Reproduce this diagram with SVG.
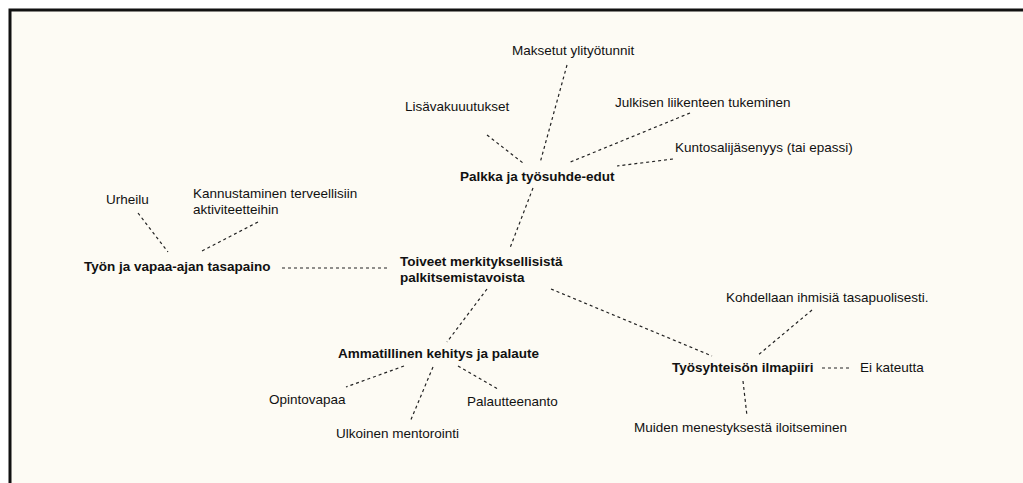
<svg xmlns="http://www.w3.org/2000/svg" width="1023" height="483" viewBox="0 0 1023 483">
<style>
text{font-family:"Liberation Sans",Arial,sans-serif;font-size:13.5px;fill:#111}
.b{font-weight:bold}
.c line{stroke:#222;stroke-width:1.2;stroke-dasharray:3 3;fill:none}
</style>
<rect x="0" y="0" width="1023" height="483" fill="#ffffff"/>
<rect x="10" y="10" width="1030" height="490" fill="#FDFBF4" stroke="#111" stroke-width="3"/>
<g id="connectors" class="c">
<line x1="567" y1="65" x2="540" y2="163"/>
<line x1="487" y1="135" x2="523" y2="163"/>
<line x1="690" y1="113" x2="568" y2="163"/>
<line x1="673" y1="159" x2="617" y2="166"/>
<line x1="533" y1="188" x2="510" y2="248"/>
<line x1="138" y1="213" x2="168" y2="252"/>
<line x1="258" y1="222" x2="200" y2="252"/>
<line x1="282" y1="268" x2="390" y2="268"/>
<line x1="487" y1="289" x2="447" y2="342"/>
<line x1="551" y1="289" x2="712" y2="356"/>
<line x1="404" y1="366" x2="346" y2="387"/>
<line x1="433" y1="367" x2="410" y2="422"/>
<line x1="458" y1="366" x2="498" y2="389"/>
<line x1="812" y1="310" x2="757" y2="356"/>
<line x1="822" y1="368" x2="851" y2="368"/>
<line x1="743" y1="381" x2="747" y2="416"/>
</g>
<g id="n-center"><text class="b" x="400" y="266">Toiveet merkityksellisistä</text><text class="b" x="400" y="282">palkitsemistavoista</text></g>
<g id="n-palkka"><text class="b" x="460" y="181">Palkka ja työsuhde-edut</text></g>
<g id="n-maksetut"><text x="512" y="55">Maksetut ylityötunnit</text></g>
<g id="n-lisa"><text x="405" y="111">Lisävakuuutukset</text></g>
<g id="n-julkisen"><text x="615" y="107">Julkisen liikenteen tukeminen</text></g>
<g id="n-kuntosali"><text x="675" y="152">Kuntosalijäsenyys (tai epassi)</text></g>
<g id="n-tyon"><text class="b" x="84" y="271">Työn ja vapaa-ajan tasapaino</text></g>
<g id="n-urheilu"><text x="106" y="204">Urheilu</text></g>
<g id="n-kannustaminen"><text x="193" y="198">Kannustaminen terveellisiin</text><text x="193" y="214">aktiviteetteihin</text></g>
<g id="n-ammatillinen"><text class="b" x="338" y="358">Ammatillinen kehitys ja palaute</text></g>
<g id="n-opintovapaa"><text x="269" y="404">Opintovapaa</text></g>
<g id="n-palaute"><text x="467" y="406">Palautteenanto</text></g>
<g id="n-mentorointi"><text x="336" y="438">Ulkoinen mentorointi</text></g>
<g id="n-tyosyhteiso"><text class="b" x="672" y="372">Työsyhteisön ilmapiiri</text></g>
<g id="n-kateus"><text x="860" y="372">Ei kateutta</text></g>
<g id="n-kohdellaan"><text x="726" y="302">Kohdellaan ihmisiä tasapuolisesti.</text></g>
<g id="n-muiden"><text x="634" y="432">Muiden menestyksestä iloitseminen</text></g>
</svg>
